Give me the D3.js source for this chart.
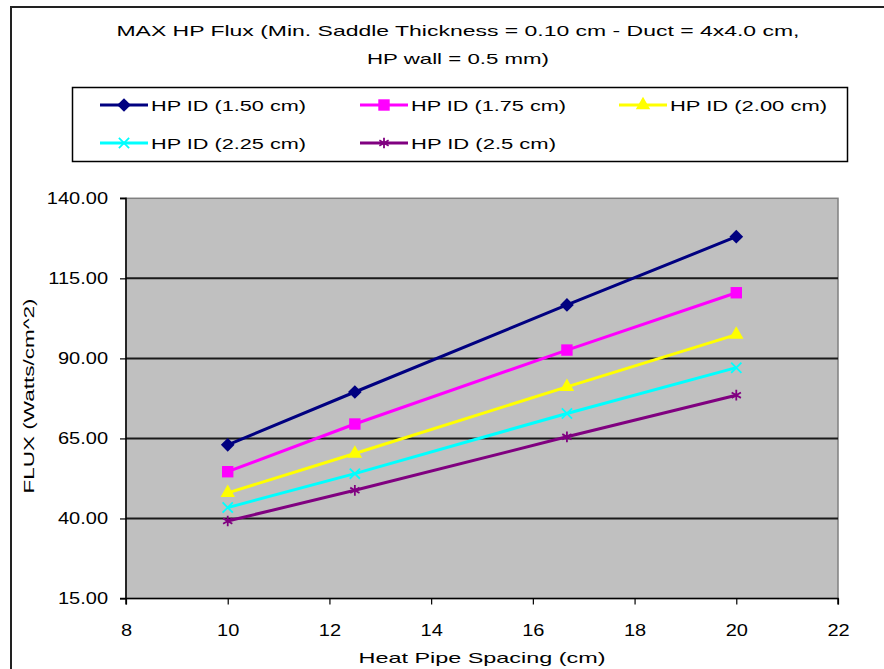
<!DOCTYPE html>
<html>
<head>
<meta charset="utf-8">
<script src="https://cdn.jsdelivr.net/npm/d3@7"></script>
<style>
  html, body { margin: 0; padding: 0; background: #fff; }
  svg { display: block; font-family: "Liberation Sans", Arial, sans-serif; }
</style>
</head>
<body>
<svg id="chart" width="884" height="669"></svg>
<script>
// Heat pipe spacing (cm) on the x axis
const spacing = [10, 12.5, 16.67, 20];

// Maximum flux (W/cm^2) for each heat pipe inner diameter
const seriesNames = ["HP ID (1.50 cm)", "HP ID (1.75 cm)", "HP ID (2.00 cm)", "HP ID (2.25 cm)", "HP ID (2.5 cm)"];
const flux150 = [63.0, 79.5, 106.7, 128.0];
const flux175 = [54.6, 69.5, 92.6, 110.5];
const flux200 = [48.0, 60.3, 81.1, 97.4];
const flux225 = [43.4, 54.0, 72.8, 87.1];
const flux250 = [39.2, 48.8, 65.5, 78.5];

const xTicks = [8, 10, 12, 14, 16, 18, 20, 22];
const yTicks = [15, 40, 65, 90, 115, 140];

const titleLines = ["MAX HP Flux (Min. Saddle Thickness = 0.10 cm - Duct = 4x4.0 cm,", "HP wall = 0.5 mm)"];
const xTitle = "Heat Pipe Spacing (cm)";
const yTitle = "FLUX (Watts/cm^2)";

const seriesValues = [flux150, flux175, flux200, flux225, flux250];
const colors = ["#000080", "#FF00FF", "#FFFF00", "#00FFFF", "#800080"];
const symbols = [d3.symbolDiamond2, d3.symbolSquare, d3.symbolTriangle, d3.symbolTimes, d3.symbolAsterisk];
const symbolSizes = [120, 130, 90, 70, 80];
const filled = [true, true, true, false, false];

const svg = d3.select("#chart");

// outer chart frame
svg.append("rect")
  .attr("x", 11).attr("y", 7).attr("width", 900).attr("height", 700)
  .attr("fill", "none").attr("stroke", "#222").attr("stroke-width", 2);

const x = d3.scaleLinear().domain([8, 22]).range([126, 838]);
const y = d3.scaleLinear().domain([15, 140]).range([598.5, 198.3]);

// plot area
svg.append("rect")
  .attr("x", x(8)).attr("y", y(140))
  .attr("width", x(22) - x(8)).attr("height", y(15) - y(140))
  .attr("fill", "#C0C0C0").attr("stroke", "#808080").attr("stroke-width", 1.5);

// horizontal gridlines
svg.append("g")
  .selectAll("line")
  .data(yTicks.filter(v => v > 15 && v < 140))
  .join("line")
  .attr("x1", x(8)).attr("x2", x(22))
  .attr("y1", d => y(d)).attr("y2", d => y(d))
  .attr("stroke", "#1a1a1a").attr("stroke-width", 2);

// axes
const xAxis = svg.append("g")
  .attr("transform", `translate(0,${y(15)})`)
  .call(d3.axisBottom(x).tickValues(xTicks).tickSize(6).tickPadding(20).tickFormat(d3.format("d")));
const yAxis = svg.append("g")
  .attr("transform", `translate(${x(8)},0)`)
  .call(d3.axisLeft(y).tickValues(yTicks).tickSize(6).tickPadding(12).tickFormat(d3.format(".2f")));

// tick labels are drawn slightly wide, as in the original workbook rendering
const tickStretch = 1.25;
[xAxis, yAxis].forEach(g => {
  g.attr("font-size", null).attr("font-family", null);
  g.select(".domain").attr("stroke", "#000").attr("stroke-width", 1.5);
  g.selectAll(".tick line").attr("stroke", "#000").attr("stroke-width", 1.2);
  g.selectAll(".tick text")
    .style("font-family", "'Liberation Sans', Arial, sans-serif")
    .style("font-size", "16px").attr("fill", "#000")
    .each(function () {
      const w = this.getComputedTextLength();
      d3.select(this).attr("textLength", w * tickStretch).attr("lengthAdjust", "spacingAndGlyphs");
    });
});
xAxis.select(".domain").attr("d", `M${x(8)},6V0H${x(22)}V6`);
yAxis.select(".domain").attr("d", `M-6,${y(140)}H0V${y(15)}H-6`);

// axis titles
svg.append("text")
  .attr("x", 482).attr("y", 663)
  .attr("text-anchor", "middle").attr("font-size", 15)
  .attr("textLength", 247).attr("lengthAdjust", "spacingAndGlyphs")
  .text(xTitle);
svg.append("text")
  .attr("transform", "translate(34,396) rotate(-90)")
  .attr("text-anchor", "middle").attr("font-size", 15)
  .attr("textLength", 195).attr("lengthAdjust", "spacingAndGlyphs")
  .text(yTitle);

// chart title
const titleWidths = [683, 182];
titleLines.forEach((t, i) => {
  svg.append("text")
    .attr("x", 458).attr("y", 36 + i * 28)
    .attr("text-anchor", "middle").attr("font-size", 15)
    .attr("textLength", titleWidths[i]).attr("lengthAdjust", "spacingAndGlyphs")
    .text(t);
});

// series lines and markers
const line = d3.line().x((d, i) => x(spacing[i])).y(d => y(d));

function drawMarker(g, k, cx, cy) {
  const p = g.append("path")
    .attr("d", d3.symbol().type(symbols[k]).size(symbolSizes[k])())
    .attr("transform", `translate(${cx},${cy})`);
  if (filled[k]) p.attr("fill", colors[k]).attr("stroke", "none");
  else p.attr("fill", "none").attr("stroke", colors[k]).attr("stroke-width", 1.8);
}

seriesValues.forEach((vals, k) => {
  const g = svg.append("g");
  g.append("path")
    .datum(vals)
    .attr("d", line)
    .attr("fill", "none").attr("stroke", colors[k]).attr("stroke-width", 3);
  vals.forEach((v, i) => drawMarker(g, k, x(spacing[i]), y(v)));
});

// legend
svg.append("rect")
  .attr("x", 72.5).attr("y", 87.5).attr("width", 775).attr("height", 74)
  .attr("fill", "#fff").attr("stroke", "#000").attr("stroke-width", 1.5);

const legendX = [100, 360, 619];
const legendY = [105, 143];
const legendWidths = [155, 155, 157, 155, 145];
seriesNames.forEach((name, k) => {
  const lx = legendX[k % 3], ly = legendY[Math.floor(k / 3)];
  const g = svg.append("g");
  g.append("line")
    .attr("x1", lx).attr("x2", lx + 48).attr("y1", ly).attr("y2", ly)
    .attr("stroke", colors[k]).attr("stroke-width", 3);
  drawMarker(g, k, lx + 24, ly);
  g.append("text")
    .attr("x", lx + 51).attr("y", ly + 5.5)
    .attr("font-size", 15)
    .attr("textLength", legendWidths[k]).attr("lengthAdjust", "spacingAndGlyphs")
    .text(name);
});
</script>
</body>
</html>
